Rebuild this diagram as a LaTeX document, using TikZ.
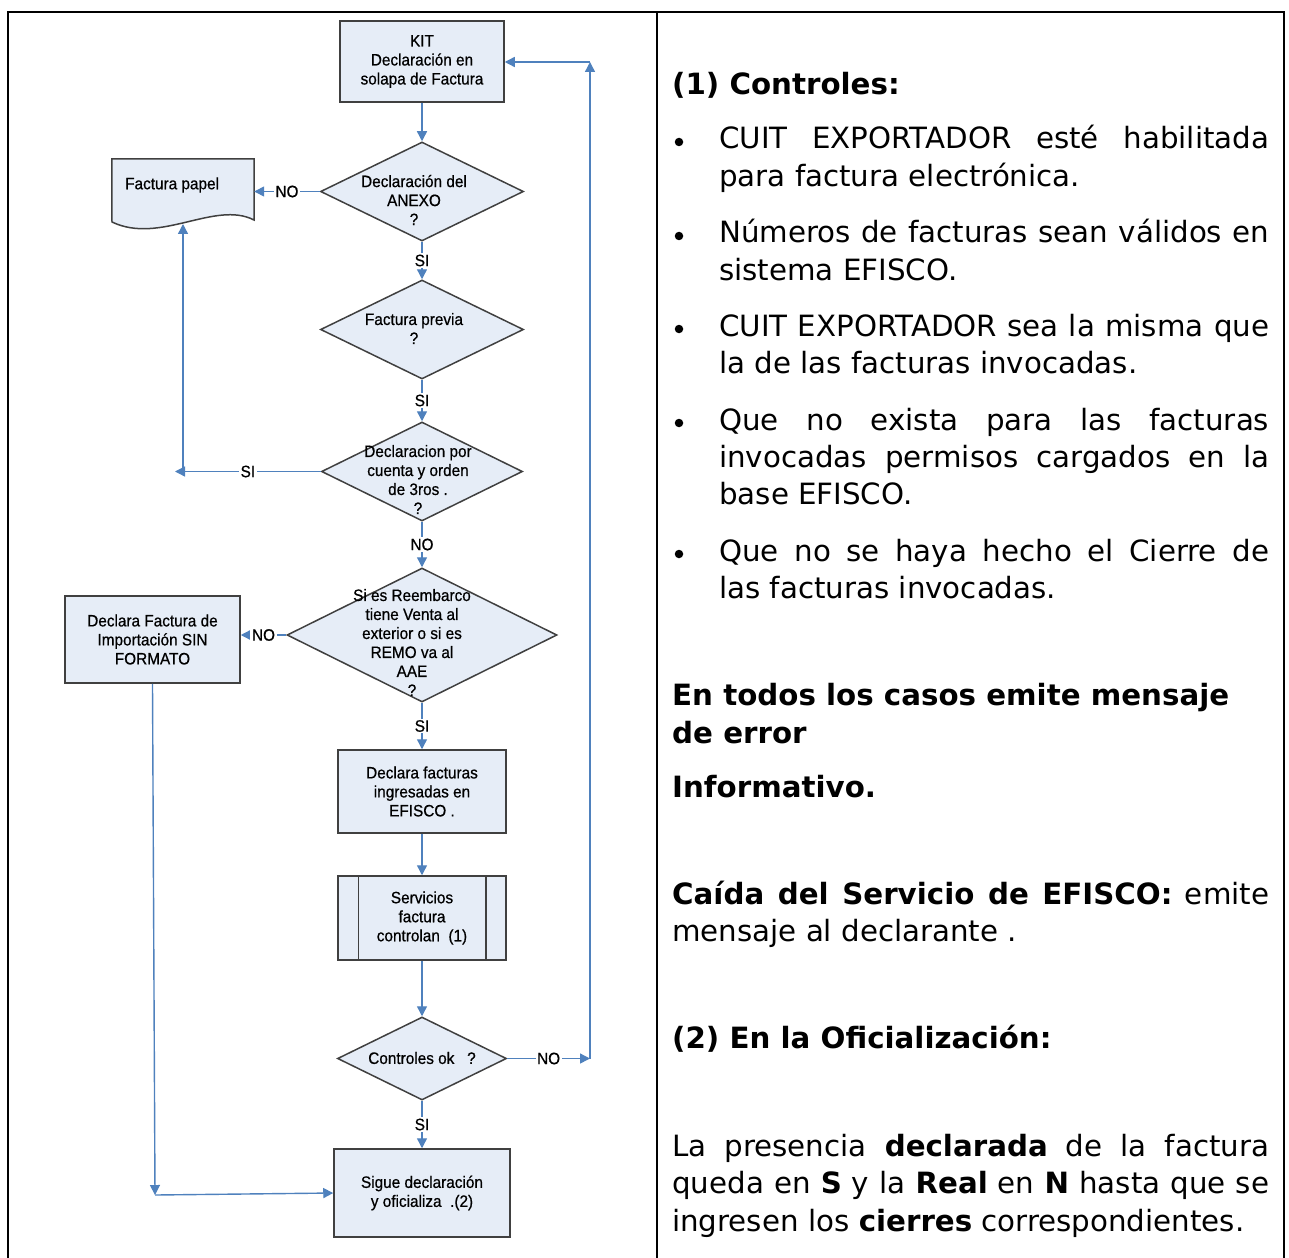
\documentclass[tikz,border=0pt]{standalone}
\usepackage{fontspec}
\setmainfont{DejaVu Sans}
\newfontfamily\flowfont[FakeStretch=0.93,FakeBold=0.6]{Liberation Sans}
\usetikzlibrary{shapes.geometric,arrows.meta}
\definecolor{cajafondo}{RGB}{230,237,247}
\definecolor{cajaborde}{RGB}{64,64,64}
\definecolor{flecha}{RGB}{79,129,189}
\tikzset{
  caja/.style={draw=cajaborde, fill=cajafondo, line width=1.5pt, inner sep=0pt},
  decision/.style={diamond, draw=cajaborde, fill=cajafondo, line width=1.5pt, inner sep=0pt},
  texto/.style={font=\flowfont\fontsize{16.5}{19}\selectfont, align=center, inner sep=0pt},
  flujo/.style={draw=flecha, line width=1.4pt, -{Triangle[width=10pt,length=10pt]}},
  rama/.style={fill=white, inner sep=1.5pt, font=\flowfont\fontsize{16.5}{19}\selectfont},
  linea/.style={anchor=base west, inner sep=0pt, font=\fontsize{29.3}{37.3}\selectfont},
  negrita/.style={font=\bfseries\fontsize{29.3}{37.3}\selectfont},
  vineta/.style={circle, fill=black, inner sep=0pt, minimum size=8.5pt},
}
\begin{document}
\begin{tikzpicture}[x=1pt,y=-1pt]
  \useasboundingbox (0,0) rectangle (1289,1257);

  % Marco de la tabla
  \draw[line width=2.5pt] (8,1265) -- (8,12) -- (1284,12) -- (1284,1265);
  \draw[line width=2.5pt] (657,12) -- (657,1265);

  % Cajas y decisiones
  \node[caja, texto, minimum width=164pt, minimum height=81pt] (kit) at (422,61.5) {KIT\\Declaración en\\solapa de Factura};
  \node[decision, minimum width=203pt, minimum height=99pt] (anexo) at (422,191.5) {};
  \node[texto] (anexot) at (414,200) {Declaración del\\ANEXO\\?};
  \node[decision, minimum width=203pt, minimum height=99pt] (previa) at (422,329.5) {};
  \node[texto] (previat) at (414,328.5) {Factura previa\\?};
  \node[decision, minimum width=201pt, minimum height=99pt] (tercero) at (422,471.5) {};
  \node[texto] (tercerot) at (418,479.5) {Declaracion por\\cuenta y orden\\de 3ros .\\?};
  \node[decision, minimum width=270pt, minimum height=134pt] (reemb) at (422,635) {};
  \node[texto] (reembt) at (412,642.5) {Si es Reembarco\\tiene Venta al\\exterior o si es\\REMO va al\\AAE\\?};
  \node[caja, texto, minimum width=175pt, minimum height=87pt] (sinf) at (152.5,639.5) {Declara Factura de\\Importación SIN\\FORMATO};
  \node[caja, texto, minimum width=168pt, minimum height=83pt] (efisco) at (422,791.5) {Declara facturas\\ingresadas en\\EFISCO .};
  \node[caja, texto, minimum width=168pt, minimum height=84pt] (serv) at (422,918) {Servicios\\factura\\controlan \ (1)};
  \draw[cajaborde, line width=1.5pt] ([xshift=21pt]serv.north west) -- ([xshift=21pt]serv.south west)
    ([xshift=-21pt]serv.north east) -- ([xshift=-21pt]serv.south east);
  \node[decision, minimum width=169pt, minimum height=83pt] (ctrl) at (422,1058.5) {};
  \node[texto] (ctrlt) at (422,1058) {Controles ok \ \ ?};
  \node[caja, texto, minimum width=176pt, minimum height=88pt] (sigue) at (422,1193) {Sigue declaración\\y oficializa \ .(2)};

  % Factura papel
  \node[minimum width=142pt, minimum height=63pt, inner sep=0pt] (papel) at (183,190.5) {};
  \draw[caja] (papel.north west) -- (papel.north east) -- (254,220)
    .. controls (215,200) and (160,245) .. (112,222) -- cycle;
  \node[texto, anchor=west] (papelt) at (125,185) {Factura papel};

  % Puntos de quiebre
  \coordinate (papelbase) at (183,224);
  \coordinate (sicodo) at (175,471.5);
  \coordinate (nofin) at (590,1058.5);
  \coordinate (noarriba) at (590,62);
  \coordinate (esquina) at (155,1195);

  % Conectores
  \draw[flujo] (kit) -- (anexo);
  \draw[flujo] (anexo.west) -- node[rama]{NO} (papel.east |- anexo.west);
  \draw[flujo] (anexo) -- node[rama]{SI} (previa);
  \draw[flujo] (previa) -- node[rama]{SI} (tercero);
  \draw[flujo] (tercero.west) -- node[rama]{SI} (sicodo);
  \draw[flujo] (tercero.west -| papelbase) -- (papelbase);
  \draw[flujo] (tercero) -- node[rama]{NO} (reemb);
  \draw[flujo] (reemb.west) -- node[rama]{NO} (sinf.east |- reemb.west);
  \draw[flujo] (reemb) -- node[rama]{SI} (efisco);
  \draw[flujo] (efisco) -- (serv);
  \draw[flujo] (serv) -- (ctrl);
  \draw[flujo] (ctrl) -- node[rama]{SI} (sigue);
  \draw[flujo] (ctrl.east) -- node[rama]{NO} (nofin);
  \draw[flujo] (nofin) -- (noarriba);
  \draw[flujo] (noarriba) -- (kit.east |- noarriba);
  \draw[flujo] (sinf.south) -- (esquina);
  \draw[flujo] (esquina) -- (sigue.west);

  % Columna derecha
  \node[linea, negrita] (tit1) at (672,95) {(1) Controles:};
  \foreach \y in {149,243,336,430,561}
    \node[vineta] (bul\y) at (679,\y-7) {};
  \node[linea] (c1a) at (719,149) {\makebox[550pt][s]{CUIT EXPORTADOR esté habilitada}};
  \node[linea] (c1b) at (719,186.5) {para factura electrónica.};
  \node[linea] (c2a) at (719,243) {\makebox[550pt][s]{Números de facturas sean válidos en}};
  \node[linea] (c2b) at (719,280) {sistema EFISCO.};
  \node[linea] (c3a) at (719,336) {\makebox[550pt][s]{CUIT EXPORTADOR sea la misma que}};
  \node[linea] (c3b) at (719,373) {la de las facturas invocadas.};
  \node[linea] (c4a) at (719,430) {\makebox[550pt][s]{Que no exista para las facturas}};
  \node[linea] (c4b) at (719,467) {\makebox[550pt][s]{invocadas permisos cargados en la}};
  \node[linea] (c4c) at (719,504) {base EFISCO.};
  \node[linea] (c5a) at (719,561) {\makebox[550pt][s]{Que no se haya hecho el Cierre de}};
  \node[linea] (c5b) at (719,598) {las facturas invocadas.};
  \node[linea, negrita] (t2a) at (672,705) {En todos los casos emite mensaje};
  \node[linea, negrita] (t2b) at (672,743) {de error};
  \node[linea, negrita] (t3) at (672,797) {Informativo.};
  \node[linea] (t4a) at (672,904) {\makebox[597pt][s]{\textbf{Caída del Servicio de EFISCO:} emite}};
  \node[linea] (t4b) at (672,941) {mensaje al declarante .};
  \node[linea, negrita] (t5) at (672,1048) {(2) En la Oficialización:};
  \node[linea] (t6a) at (672,1156) {\makebox[597pt][s]{La presencia \textbf{declarada} de la factura}};
  \node[linea] (t6b) at (672,1193.5) {\makebox[597pt][s]{queda en \textbf{S} y la \textbf{Real} en \textbf{N} hasta que se}};
  \node[linea] (t6c) at (672,1231) {ingresen los \textbf{cierres} correspondientes.};
\end{tikzpicture}
\end{document}
